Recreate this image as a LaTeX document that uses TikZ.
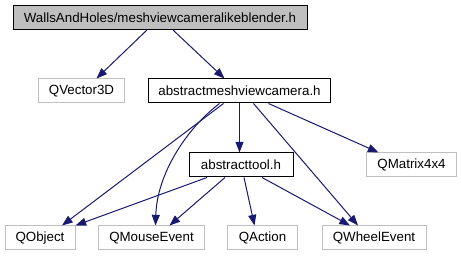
\documentclass[tikz,border=0pt]{standalone}
\usepackage{fontspec}
\setmainfont{Liberation Sans}
\usetikzlibrary{calc,arrows.meta}
\definecolor{navy}{HTML}{191970}

\begin{document}
\begin{tikzpicture}[x=0.75pt,y=-0.75pt,
  every node/.style={font=\fontsize{10}{12}\selectfont,minimum height=18pt,inner sep=0pt,line width=0.75pt},
  hdr/.style={draw=black,fill=black!25},
  loc/.style={draw=black,fill=white},
  ext/.style={draw=black!25,fill=white},
  dep/.style={draw=navy,line width=0.75pt,-{Triangle[length=8pt,width=6pt,fill=navy]}}]
  \useasboundingbox (0,0) rectangle (461,256);
  \node[hdr,minimum width=220.5pt] (walls) at (160,17.5) {WallsAndHoles/meshviewcameralikeblender.h};
  \node[ext,minimum width=65pt] (qvec) at (81.5,91) {QVector3D};
  \node[loc,minimum width=137pt] (amc) at (239.5,91) {abstractmeshviewcamera.h};
  \node[loc,minimum width=78pt] (tool) at (241,165) {abstracttool.h};
  \node[ext,minimum width=67pt] (qmat) at (411.5,165) {QMatrix4x4};
  \node[ext,minimum width=52.5pt] (qobj) at (40,238) {QObject};
  \node[ext,minimum width=79pt] (qmouse) at (151.5,238) {QMouseEvent};
  \node[ext,minimum width=52pt] (qaction) at (262.5,238) {QAction};
  \node[ext,minimum width=78pt] (qwheel) at (374,238) {QWheelEvent};
  \draw[dep] ($(walls.south)+(-13,0)$) -- ($(qvec.north)+(15,0)$);
  \draw[dep] ($(walls.south)+(13,0)$) -- ($(amc.north)+(-15,0)$);
  \draw[dep] ($(amc.south)+(-16,0)$) -- ($(qobj.north)+(22,0)$);
  \draw[dep] ($(amc.south)+(-20,0)$) .. controls (185,130) and (157,175) .. ($(qmouse.north)+(4,0)$);
  \draw[dep] (amc.south) -- (amc.south |- tool.north);
  \draw[dep] ($(amc.south)+(14,0)$) -- ($(qwheel.north)+(-16,0)$);
  \draw[dep] ($(amc.south)+(29,0)$) -- ($(qmat.north)+(-33,0)$);
  \draw[dep] ($(tool.south)+(-34,0)$) -- (qobj.north east);
  \draw[dep] ($(tool.south)+(-16,0)$) -- ($(qmouse.north)+(18,0)$);
  \draw[dep] ($(tool.south)+(3,0)$) -- ($(qaction.north)+(-8,0)$);
  \draw[dep] ($(tool.south)+(21,0)$) -- ($(qwheel.north)+(-24,0)$);
\end{tikzpicture}
\end{document}
